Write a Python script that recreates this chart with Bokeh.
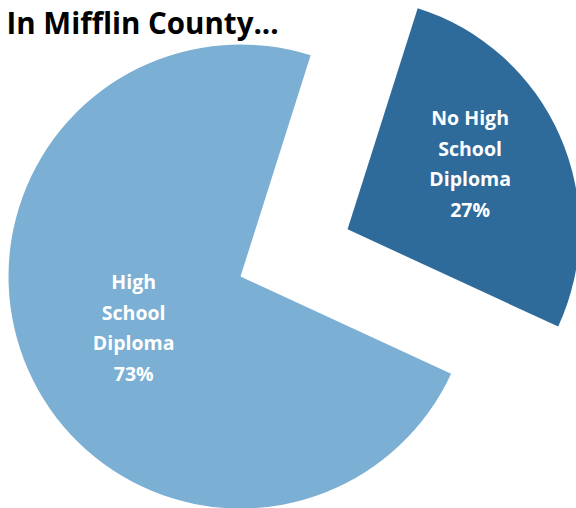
import math
from bokeh.plotting import figure
from bokeh.models import Range1d, ColumnDataSource
from bokeh.core.properties import value
from bokeh.embed import file_html
from bokeh.resources import INLINE

# ---- data ----
categories = ["No High School Diploma", "High School Diploma"]
label_lines = ["No High\nSchool\nDiploma", "High\nSchool\nDiploma"]
percents = [27, 73]
colors = ["#2E6B9B", "#7BAFD4"]
explode = [117, 0]            # pixels the slice is pulled out along its bisector
label_frac = [0.60, 0.51]     # label distance from slice vertex, fraction of radius
label_nudge = [4.5, 1.7]      # degrees added to bisector for label placement
title_text = "In Mifflin County..."

# ---- geometry (1 data unit = 1 px; y measured upward from reference bottom) ----
W, H = 576, 508
cx, cy, R = 240, 232, 232
start_deg = 72.4

total = sum(percents)
xs, ys, starts, ends, lx, ly, texts = [], [], [], [], [], [], []
a = start_deg
for cat, lab, pct, ex, lf, ln in zip(categories, label_lines, percents, explode, label_frac, label_nudge):
    span = 360.0 * pct / total
    s, e = a, a - span
    mid = math.radians(a - span / 2)
    x0 = cx + ex * math.cos(mid)
    y0 = cy + ex * math.sin(mid)
    xs.append(x0); ys.append(y0)
    starts.append(math.radians(s)); ends.append(math.radians(e))
    lm = mid + math.radians(ln)
    lx.append(x0 + lf * R * math.cos(lm))
    ly.append(y0 + lf * R * math.sin(lm))
    texts.append(f"{lab}\n{pct}%")
    a = e

src = ColumnDataSource(dict(x=xs, y=ys, start=starts, end=ends, color=colors))
lsrc = ColumnDataSource(dict(x=lx, y=ly, text=texts))

p = figure(width=W, height=H, output_backend="svg", toolbar_location=None,
           x_range=Range1d(0, W), y_range=Range1d(508 - H, 508),
           min_border=0, tools="")
p.axis.visible = False
p.grid.visible = False
p.outline_line_color = None
p.background_fill_color = "white"
p.border_fill_color = "white"

p.wedge(x="x", y="y", radius=R, start_angle="start", end_angle="end",
        direction="clock", fill_color="color", line_color=None, source=src)

p.text(x="x", y="y", text="text", source=lsrc, text_color="white",
       text_font=value("Open Sans"), text_font_style="bold",
       text_font_size="19.5px", text_align="center", text_baseline="middle",
       text_line_height=1.13)

p.text(x=[6], y=[486], text=[title_text], text_color="black",
       text_font=value("Open Sans"), text_font_style="bold",
       text_font_size="29.5px", text_align="left", text_baseline="alphabetic")

open("out.html", "w").write(file_html(p, INLINE))
